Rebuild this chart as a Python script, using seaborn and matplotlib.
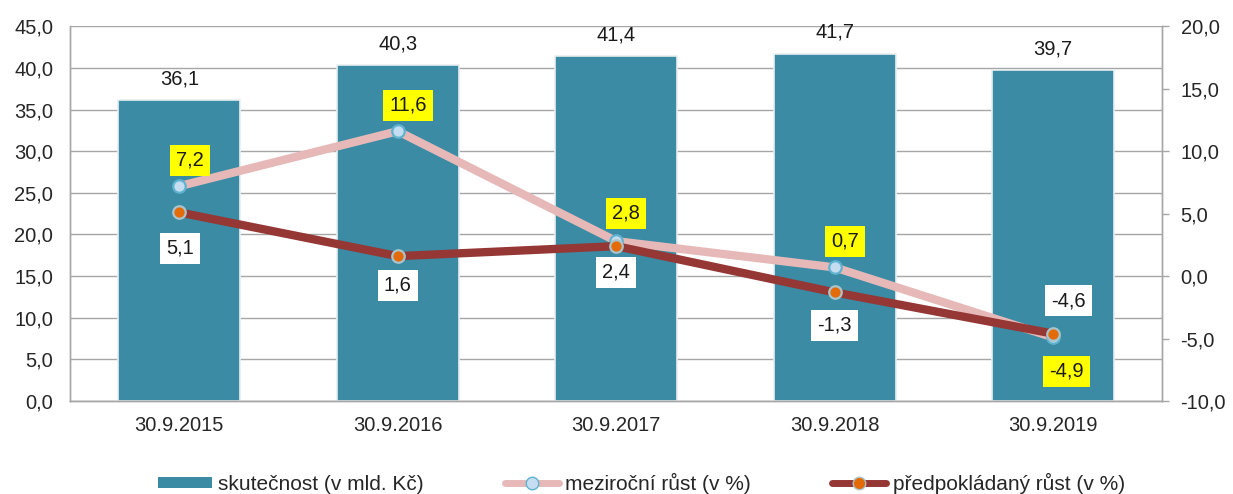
import numpy as np
import pandas as pd
import seaborn as sns
import matplotlib.pyplot as plt
from matplotlib.lines import Line2D
from matplotlib.patches import Patch

dates = ["30.9.2015", "30.9.2016", "30.9.2017", "30.9.2018", "30.9.2019"]
skutecnost = [36.1, 40.3, 41.4, 41.7, 39.7]
mezirocni = [7.2, 11.6, 2.8, 0.7, -4.9]
predpoklad = [5.1, 1.6, 2.4, -1.3, -4.6]

# label offsets (px) for the line labels
mez_off = [(11, 26), (10, 26), (10, 28), (10, 26), (13, -34)]
pre_off = [(1, -36), (0, -29), (0, -26), (0, -33), (15, 33)]

bar_col = "#3A8BA3"
pink = "#E6B9B8"
dred = "#953735"
FS = 14.5

sns.set_theme(style="white")
plt.rcParams["font.family"] = ["Liberation Sans", "DejaVu Sans"]


def cz(v):
    return f"{v:.1f}".replace(".", ",")


df = pd.DataFrame({"datum": dates, "skut": skutecnost, "mez": mezirocni, "pre": predpoklad})

fig = plt.figure(figsize=(12.33, 4.94), dpi=100)
ax = fig.add_axes([0.0568, 0.188, 0.886, 0.759])
ax2 = ax.twinx()

ax.set_axisbelow(True)
ax.yaxis.grid(True, color="#A6A6A6", linewidth=1)
sns.barplot(data=df, x="datum", y="skut", color=bar_col, saturation=1, width=0.56,
            edgecolor="#E8EEF0", linewidth=1.2, ax=ax, zorder=2)
for c in ax.containers:
    ax.bar_label(c, labels=[cz(v) for v in skutecnost], padding=8.5, fontsize=FS, color="#1a1a1a")

sns.pointplot(data=df, x="datum", y="mez", color=pink, linewidth=6, markersize=9,
              markerfacecolor="#C5DDF0", markeredgecolor="#5FB3D0", markeredgewidth=1.6, ax=ax2)
sns.pointplot(data=df, x="datum", y="pre", color=dred, linewidth=6, markersize=9,
              markerfacecolor="#E36C09", markeredgecolor="#A9C4CC", markeredgewidth=1.6, ax=ax2)

for i, v in enumerate(mezirocni):
    dx, dy = mez_off[i]
    ax2.annotate(cz(v), (i, v), xytext=(dx * 0.72, dy * 0.72), textcoords="offset points",
                 ha="center", va="center", fontsize=FS, color="#1a1a1a",
                 bbox=dict(boxstyle="square,pad=0.3", fc="#FFFF00", ec="none"))
for i, v in enumerate(predpoklad):
    dx, dy = pre_off[i]
    ax2.annotate(cz(v), (i, v), xytext=(dx * 0.72, dy * 0.72), textcoords="offset points",
                 ha="center", va="center", fontsize=FS, color="#1a1a1a",
                 bbox=dict(boxstyle="square,pad=0.3", fc="white", ec="none"))

ax.set_xlim(-0.5, 4.5)
ax.set_ylim(0, 45)
ax.set_yticks(np.arange(0, 46, 5))
ax.set_yticklabels([cz(v) for v in np.arange(0, 46, 5)])
ax2.set_ylim(-10, 20)
ax2.set_yticks(np.arange(-10, 21, 5))
ax2.set_yticklabels([cz(v) for v in np.arange(-10, 21, 5)])
ax.set_xlabel("")
ax.set_ylabel("")
ax2.set_xlabel("")
ax2.set_ylabel("")

ax.tick_params(axis="y", length=0, pad=12, labelsize=FS, labelcolor="#262626")
ax.tick_params(axis="x", length=0, pad=11, labelsize=FS, labelcolor="#262626")
ax2.tick_params(axis="y", length=5, width=1, color="#A6A6A6", pad=8, labelsize=FS, labelcolor="#262626")

for a in (ax, ax2):
    for s in ["left", "right", "bottom"]:
        a.spines[s].set_color("#A6A6A6")
        a.spines[s].set_linewidth(1)
    a.spines["top"].set_visible(False)

handles = [
    Patch(facecolor=bar_col, edgecolor="none"),
    Line2D([], [], color=pink, lw=5, marker="o", markersize=9,
           markerfacecolor="#C5DDF0", markeredgecolor="#5FB3D0"),
    Line2D([], [], color=dred, lw=5, marker="o", markersize=9,
           markerfacecolor="#E36C09", markeredgecolor="#A9C4CC"),
]
labels = ["skutečnost (v mld. Kč)", "meziroční růst (v %)", "předpokládaný růst (v %)"]
fig.legend(handles, labels, loc="center", bbox_to_anchor=(0.52, 0.022), ncol=3, frameon=False,
           fontsize=15, handlelength=2.6, handleheight=0.45, handletextpad=0.3, columnspacing=3.9)

fig.savefig("out.png", dpi=100)
